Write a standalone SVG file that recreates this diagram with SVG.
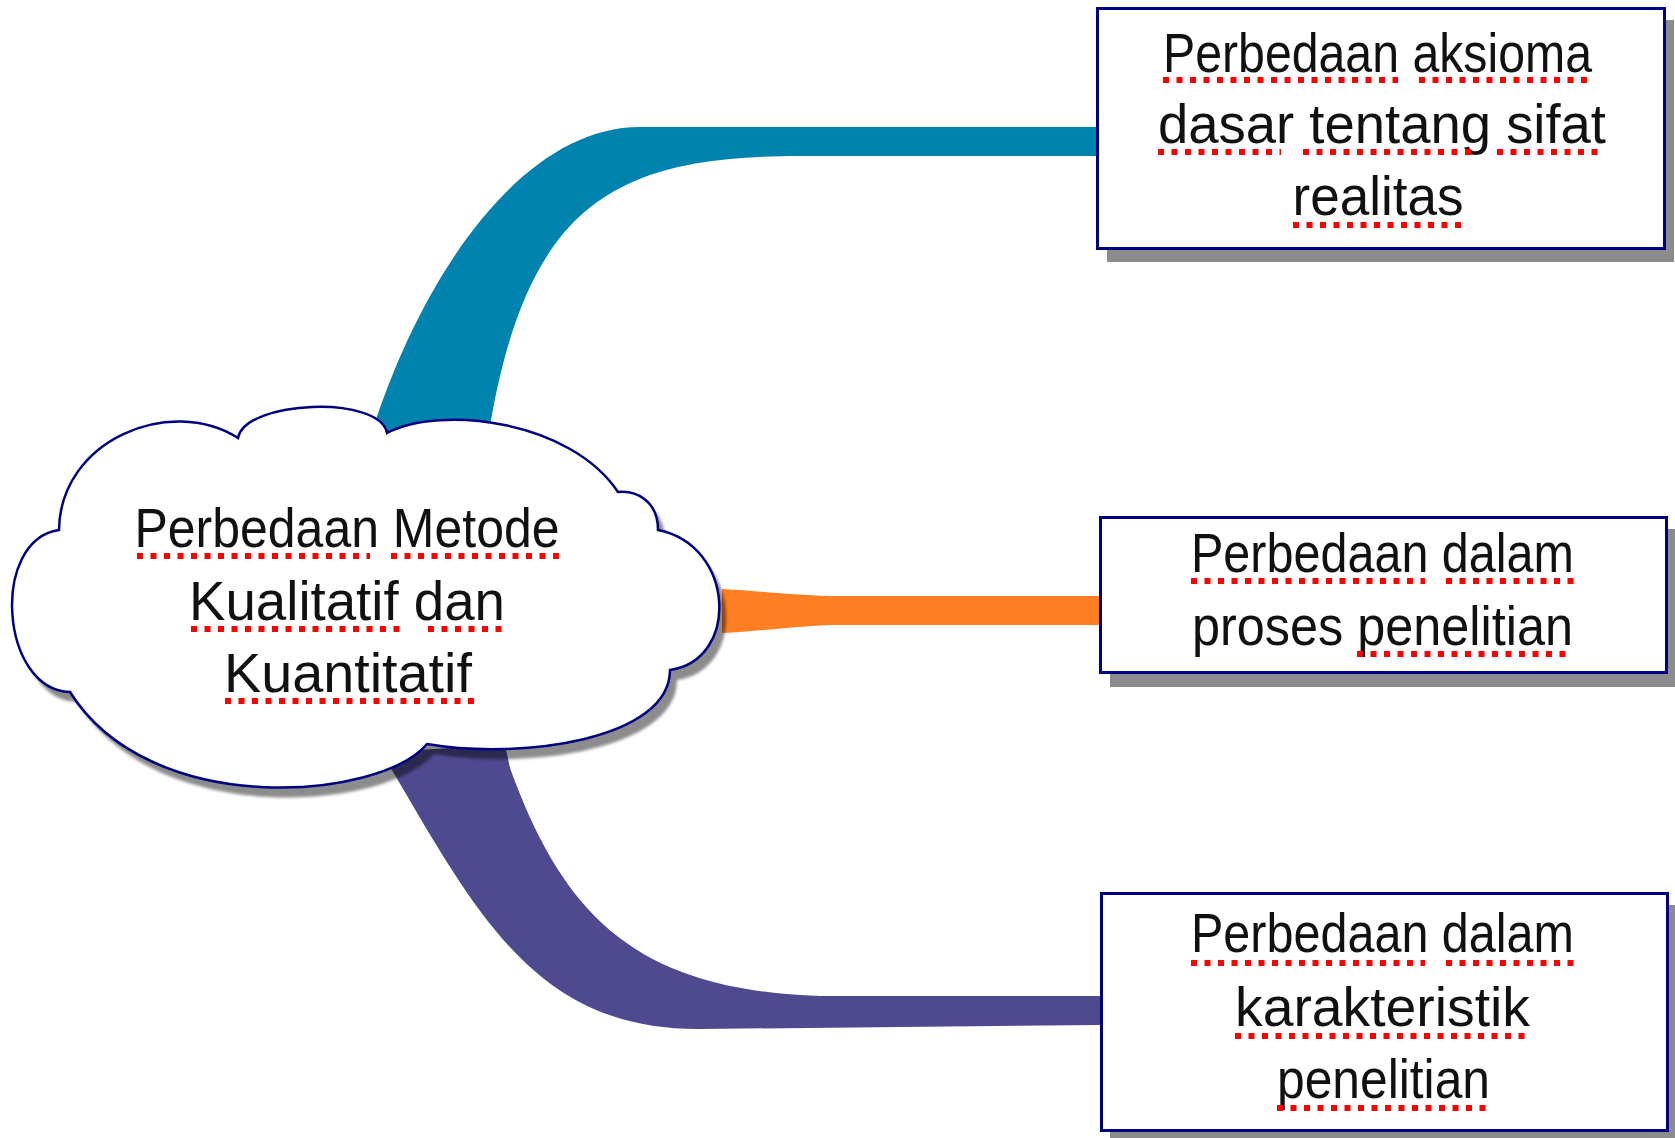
<svg xmlns="http://www.w3.org/2000/svg" width="1675" height="1138" viewBox="0 0 1675 1138">
<style>
.lbl{font-family:"Liberation Sans","Noto Sans",Arial,sans-serif;font-size:55px;fill:#111;text-anchor:middle}
.box{fill:#fff;stroke:#000080;stroke-width:3}
.shd{fill:#8c8c8c}
.ul{stroke:#ff0000;stroke-width:6;stroke-dasharray:6 7.5;fill:none}
</style>
<defs>
<filter id="blur" x="-5%" y="-5%" width="110%" height="110%"><feGaussianBlur stdDeviation="1.5"/></filter>
<path id="cloudShape" d="M59 530 C60 440 170 395 238 438 C245 400 380 395 387 433 C440 405 570 420 618 492 C635 490 658 500 658 530 C735 545 740 660 670 670 C670 740 520 760 427 744 C380 800 150 820 70 692 C0 690 -10 540 59 530 Z"/>
</defs>
<rect width="1675" height="1138" fill="#fff"/>
<g id="connectors">
<path d="M368 445 L372 432 C420 280 520 127 640 127 L1098 127 L1098 156 L800 156 C620 156 530 200 491 420 L489 432 Z" fill="#0083af"/>
<path d="M722 589 C760 591 790 595 830 596 L1100 596 L1100 625 L830 625 C790 627 760 631 722 633 Z" fill="#ff7f22"/>
<path d="M381 752 L396 777 C480 920 540 1030 700 1029 L1100 1025 L1100 996 L820 996 C640 990 565 920 510 768 L505 745 Z" fill="#4f4a8f"/>
</g>
<g id="node-center">
<use href="#cloudShape" transform="translate(7,10)" fill="#000" fill-opacity="0.45" filter="url(#blur)"/>
<use href="#cloudShape" fill="#fff" stroke="#000080" stroke-width="2.5"/>
<text class="lbl" x="347" y="547" textLength="425" lengthAdjust="spacingAndGlyphs">Perbedaan Metode</text>
<text class="lbl" x="347" y="620" textLength="316" lengthAdjust="spacingAndGlyphs">Kualitatif dan</text>
<text class="lbl" x="348" y="692" textLength="248" lengthAdjust="spacingAndGlyphs">Kuantitatif</text>
<path class="ul" d="M137 556 H370 M391 556 H561 M191 629 H405 M428 629 H503 M225 701 H476"/>
</g>
<g id="node-aksioma">
<rect class="shd" x="1107" y="20" width="567" height="242"/>
<rect class="box" x="1097.5" y="8.5" width="567" height="240"/>
<text class="lbl" x="1377.5" y="72" textLength="429" lengthAdjust="spacingAndGlyphs">Perbedaan aksioma</text>
<text class="lbl" x="1382" y="143" textLength="448" lengthAdjust="spacingAndGlyphs">dasar tentang sifat</text>
<text class="lbl" x="1378" y="215" textLength="171" lengthAdjust="spacingAndGlyphs">realitas</text>
<path class="ul" d="M1163 80 H1398 M1419 80 H1589 M1158 152 H1281 M1303 152 H1473 M1497 152 H1599 M1293 225 H1463"/>
</g>
<g id="node-proses">
<rect class="shd" x="1110" y="529" width="566" height="158"/>
<rect class="box" x="1100.5" y="517.5" width="566" height="155"/>
<text class="lbl" x="1382.5" y="572" textLength="383" lengthAdjust="spacingAndGlyphs">Perbedaan dalam</text>
<text class="lbl" x="1382.5" y="645" textLength="381" lengthAdjust="spacingAndGlyphs">proses penelitian</text>
<path class="ul" d="M1191 581 H1425 M1446 581 H1575 M1357 654 H1568"/>
</g>
<g id="node-karakteristik">
<rect class="shd" x="1110" y="905" width="566" height="240"/>
<rect class="box" x="1101.5" y="893.5" width="566" height="237"/>
<text class="lbl" x="1382.5" y="952" textLength="383" lengthAdjust="spacingAndGlyphs">Perbedaan dalam</text>
<text class="lbl" x="1382.5" y="1026" textLength="295" lengthAdjust="spacingAndGlyphs">karakteristik</text>
<text class="lbl" x="1383.5" y="1098" textLength="213" lengthAdjust="spacingAndGlyphs">penelitian</text>
<path class="ul" d="M1191 963 H1425 M1446 963 H1575 M1235 1036 H1527 M1277 1108 H1488"/>
</g>
</svg>
